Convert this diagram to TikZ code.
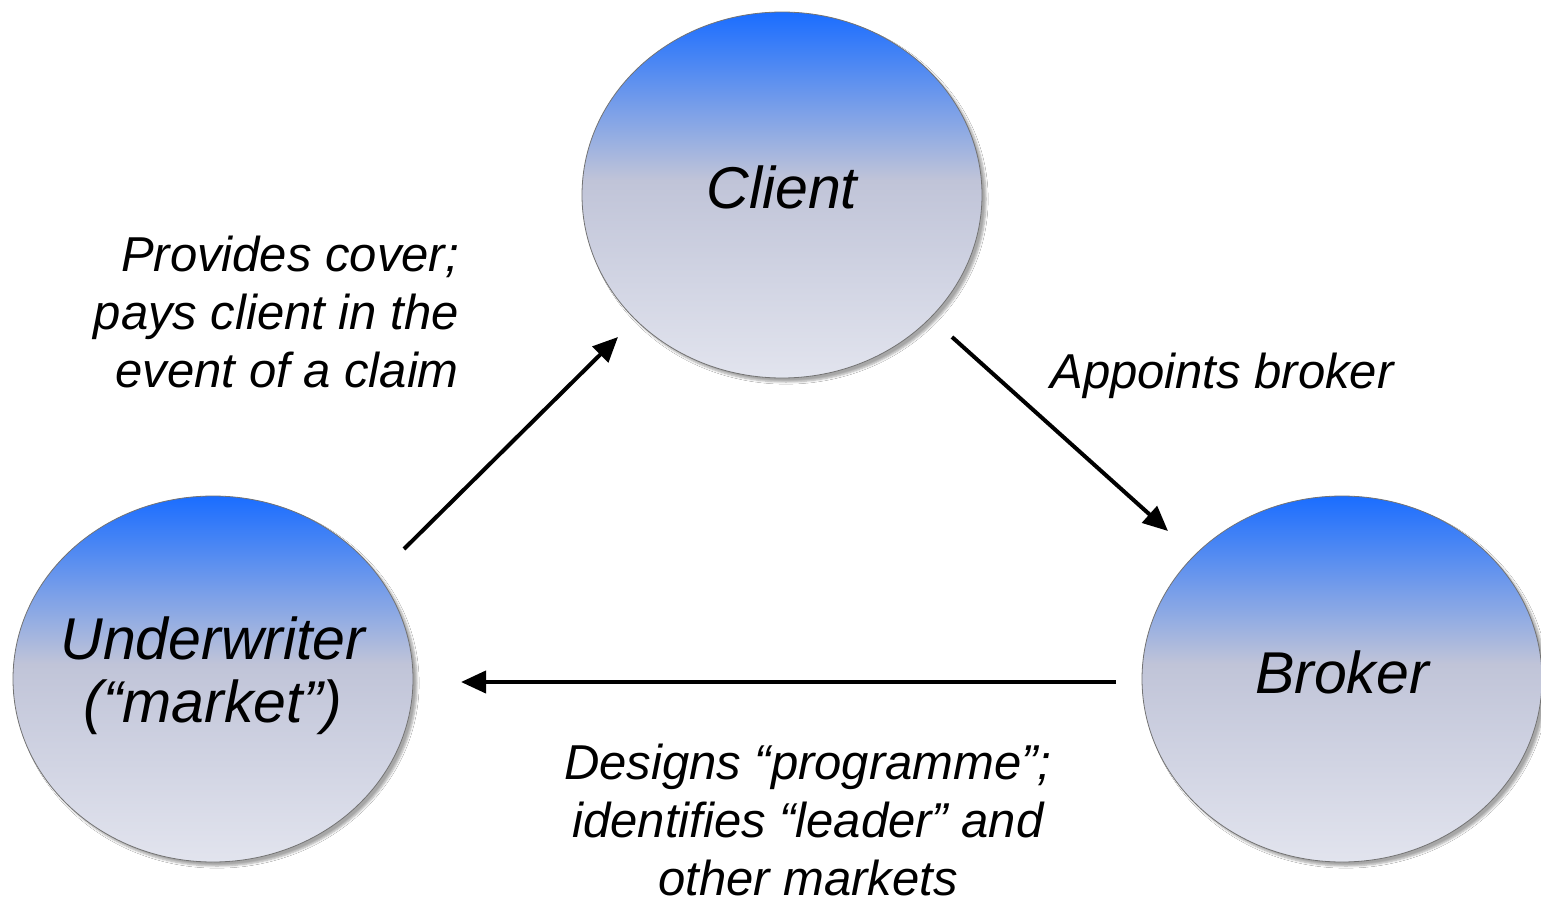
\documentclass[tikz,border=0pt]{standalone}
\usepackage{fontspec}
\setmainfont{Liberation Sans}
\usetikzlibrary{shapes.geometric,arrows.meta,shadows.blur}
\definecolor{balltop}{RGB}{26,109,255}
\definecolor{ballmid}{RGB}{192,196,216}
\definecolor{ballbot}{RGB}{226,228,238}
\pgfdeclareverticalshading{ballshade}{100bp}{color(0bp)=(ballbot); color(25bp)=(ballbot); color(52bp)=(ballmid); color(75bp)=(balltop); color(100bp)=(balltop)}
\tikzset{
  ball/.style={ellipse, minimum width=400pt, minimum height=366pt, inner sep=0pt,
    shading=ballshade, draw=black!55, line width=0.8pt,
    blur shadow={shadow xshift=4pt, shadow yshift=-4pt, shadow blur steps=6, shadow opacity=35}},
  balltext/.style={font=\fontsize{59}{63}\selectfont\itshape, align=center, inner sep=0pt},
  lbl/.style={font=\fontsize{49}{58}\selectfont\itshape, align=center, inner sep=0pt},
  flow/.style={line width=4pt, -{Triangle[length=25pt,width=22pt]}}
}
\begin{document}
\begin{tikzpicture}[x=1pt,y=-1pt]
\useasboundingbox[fill=white] (0,0) rectangle (1541,902);
\node[ball] (cli) at (782,195) {};
\node[ball] (bro) at (1342,679) {};
\node[ball] (und) at (213,679) {};
\node[balltext] (clit) at ([yshift=8pt]cli.center) {Client};
\node[balltext] (brot) at ([yshift=7pt]bro.center) {Broker};
\node[balltext] (undt) at ([yshift=3pt]und.center) {Underwriter\\(“market”)};
\coordinate (a1s) at (404,549);
\coordinate (a1e) at (618,337);
\coordinate (a2s) at (952,337);
\coordinate (a2e) at (1168,531);
\coordinate (a3s) at (1116,682);
\coordinate (a3e) at (461,682);
\draw[flow] (a1s) -- (a1e);
\draw[flow] (a2s) -- (a2e);
\draw[flow] (a3s) -- (a3e);
\node[lbl, align=right, anchor=east] (l1) at (459,312) {Provides cover;\\pays client in the\\event of a claim};
\node[lbl] (l2) at (1222,376) {Appoints broker};
\node[lbl] (l3) at (808,820) {Designs “programme”;\\identifies “leader” and\\other markets};
\end{tikzpicture}
\end{document}
